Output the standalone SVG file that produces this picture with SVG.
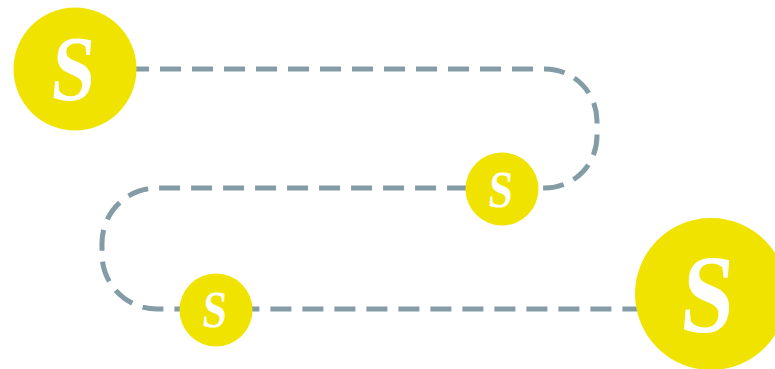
<svg xmlns="http://www.w3.org/2000/svg" width="775" height="369" viewBox="0 0 775 369">
<style>
.conn{fill:none;stroke:#849ca5;stroke-width:5;stroke-dasharray:21 11;stroke-dashoffset:11}
.dot{fill:#f0e300}
.lbl{fill:#ffffff;font-family:"Liberation Serif","DejaVu Serif",serif;font-weight:bold;text-anchor:middle}
</style>
<rect width="775" height="369" fill="#ffffff"/>
<g id="connectors">
<path class="conn" d="M 75 69 H 545 A 52 52 0 0 1 597 121 V 136 A 52 52 0 0 1 545 188 H 157 A 55 55 0 0 0 102 243 V 254 A 55 55 0 0 0 157 309 H 711"/>
</g>
<g id="node1">
<circle class="dot" cx="75" cy="69" r="61.5"/>
<text class="lbl" transform="translate(71 100) skewX(-5) scale(0.84 1)" font-size="93">S</text>
</g>
<g id="node2">
<circle class="dot" cx="502" cy="189" r="36.5"/>
<text class="lbl" transform="translate(499.5 207) skewX(-5) scale(0.84 1)" font-size="52">S</text>
</g>
<g id="node3">
<circle class="dot" cx="216" cy="310" r="36.5"/>
<text class="lbl" transform="translate(213.5 327) skewX(-5) scale(0.84 1)" font-size="52">S</text>
</g>
<g id="node4">
<circle class="dot" cx="711" cy="294" r="76"/>
<text class="lbl" transform="translate(705 332) skewX(-5) scale(0.84 1)" font-size="112">S</text>
</g>
</svg>
